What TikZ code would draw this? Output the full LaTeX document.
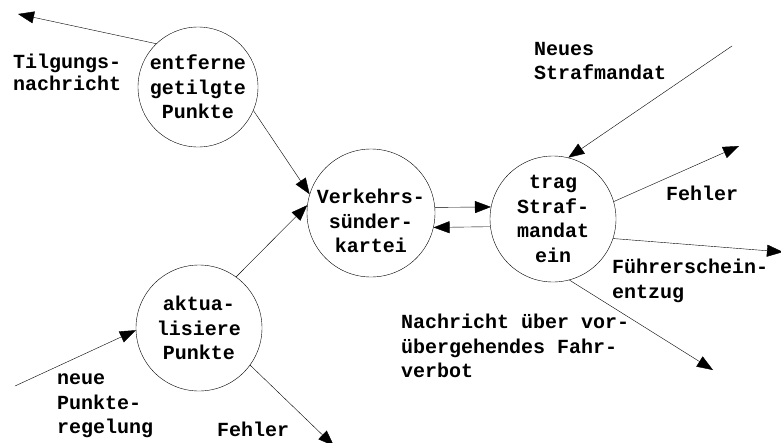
\documentclass[tikz,border=0pt]{standalone}
\usepackage{fontspec}
\setmonofont{Liberation Mono}
\usetikzlibrary{arrows.meta,positioning}
\tikzset{proc/.style={shape=circle,draw=black,minimum size=126pt,inner sep=0pt,align=center},
  flow/.style={-{Triangle[length=16pt,width=12pt]}},
  lbl/.style={anchor=west,align=left,inner sep=0pt}}

\begin{document}
\begin{tikzpicture}[x=1pt, y=-1pt, thin, font=\ttfamily\bfseries\fontsize{20}{24.5}\selectfont]
    \useasboundingbox (0,0) rectangle (781,442);
    % processes
    \node[proc,minimum size=120pt] (entf) at (198,87) {entferne\\getilgte\\Punkte};
    \node[proc,minimum size=128pt,label={[align=center,yshift=-8pt]center:Verkehrs-\\sünder-\\kartei}] (kart) at (371,213) {};
    \node[proc] (trag) at (553,219) {trag\\Straf-\\mandat\\ein};
    \node[proc] (akt) at (199,328) {aktua-\\lisiere\\Punkte};

    % data flow names
    \node[lbl,font=\ttfamily\bfseries\fontsize{20}{22}\selectfont] (tilgtxt) at (13,72) {Tilgungs-\\nachricht};
    \node[lbl] (neutxt) at (534,61) {Neues\\Strafmandat};
    \node[lbl] (fehl1) at (666,193) {Fehler};
    \node[lbl] (fstxt) at (612,281) {Führerschein-\\entzug};
    \node[lbl] (nachtxt) at (401,346) {Nachricht über vor-\\übergehendes Fahr-\\verbot};
    \node[lbl] (regtxt) at (57,406) {neue\\Punkte-\\regelung};
    \node[lbl] (fehl2) at (217,429) {Fehler};

    % open ends
    \coordinate (tilg) at (18,14);
    \coordinate (neu) at (732,46);
    \coordinate (f1) at (739,146);
    \coordinate (fs) at (783,252);
    \coordinate (nach) at (713,370);
    \coordinate (reg) at (15,386);
    \coordinate (f2) at (334,446);

    \draw[flow] (entf.134) -- (tilg);
    \draw[flow] (entf.-23) -- (kart.163);
    \draw[flow] (akt.54) -- (kart.173);
    \draw[flow] (kart.5) -- (trag.169);
    \draw[flow] (trag.187) -- (kart.-13);
    \draw[flow] (neu) -- (trag.76);
    \draw[flow] (trag.16) -- (f1);
    \draw[flow] (trag.-18) -- (fs);
    \draw[flow] (trag.-75) -- (nach);
    \draw[flow] (reg) -- (akt.182);
    \draw[flow] (akt.-36) -- (f2);
\end{tikzpicture}
\end{document}
